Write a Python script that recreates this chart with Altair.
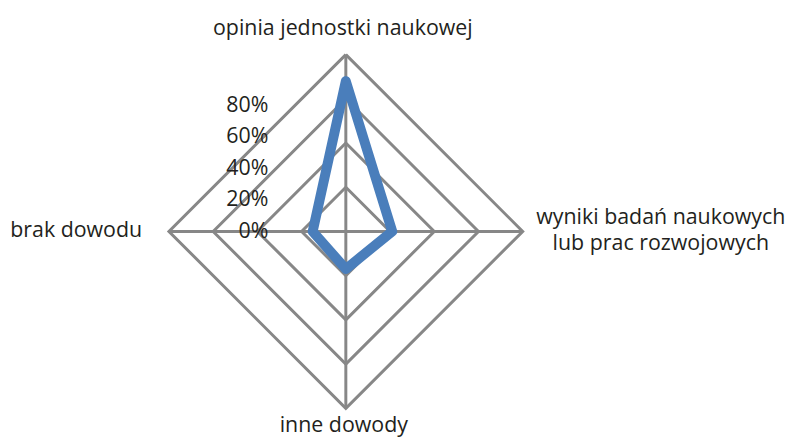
import math
import altair as alt
import pandas as pd

# ---- data ----
categories = ["opinia jednostki naukowej", "wyniki badań naukowych\nlub prac rozwojowych",
              "inne dowody", "brak dowodu"]
values = [68, 21, 17, 15]
ring_levels = [20, 40, 60, 80]
tick_values = [0, 20, 40, 60, 80]
tick_labels = ["0%", "20%", "40%", "60%", "80%"]

angles = [90, 0, -90, 180]  # top, right, bottom, left

W, H = 776, 431
CX, CY = 340, 223.5
K = 178 / 80.0
xdom = [-CX / K, (W - CX) / K]
ydom = [-(H - CY) / K, CY / K]
xs = alt.Scale(domain=xdom, nice=False, zero=False)
ys = alt.Scale(domain=ydom, nice=False, zero=False)

FONT = "Open Sans"
FS = 21.5
TXT = "#231F20"
GRID = "#878787"

# rings
ring_rows = []
for lv in ring_levels:
    for i, a in enumerate(angles + [angles[0]]):
        r = math.radians(a)
        ring_rows.append({"ring": lv, "i": i, "x": lv * math.cos(r), "y": lv * math.sin(r)})
rings = alt.Chart(pd.DataFrame(ring_rows)).mark_line(color=GRID, strokeWidth=3).encode(
    x=alt.X("x:Q", scale=xs, axis=None),
    y=alt.Y("y:Q", scale=ys, axis=None),
    detail="ring:N",
    order="i:Q",
)

# spokes
spoke_rows = []
for a in angles:
    r = math.radians(a)
    spoke_rows.append({"x": 0, "y": 0, "x2": 80 * math.cos(r), "y2": 80 * math.sin(r)})
spokes = alt.Chart(pd.DataFrame(spoke_rows)).mark_rule(color=GRID, strokeWidth=3).encode(
    x=alt.X("x:Q", scale=xs, axis=None), y=alt.Y("y:Q", scale=ys, axis=None),
    x2="x2:Q", y2="y2:Q",
)

# series
ser_rows = []
for i, (a, v) in enumerate(list(zip(angles, values)) + [(angles[0], values[0])]):
    r = math.radians(a)
    ser_rows.append({"i": i, "x": v * math.cos(r), "y": v * math.sin(r)})
series = alt.Chart(pd.DataFrame(ser_rows)).mark_line(
    color="#4A7EBB", strokeWidth=10, strokeJoin="round", strokeCap="round"
).encode(
    x=alt.X("x:Q", scale=xs, axis=None), y=alt.Y("y:Q", scale=ys, axis=None), order="i:Q"
)

# category labels
def cat_label(idx, align, dx, dy):
    a = math.radians(angles[idx])
    df = pd.DataFrame([{"t": categories[idx], "x": 80 * math.cos(a), "y": 80 * math.sin(a)}])
    return alt.Chart(df).mark_text(
        font=FONT, fontSize=FS, color=TXT, align=align, baseline="alphabetic",
        dx=dx, dy=dy, lineBreak="\n", lineHeight=27,
    ).encode(x=alt.X("x:Q", scale=xs, axis=None), y=alt.Y("y:Q", scale=ys, axis=None), text="t:N")

lab_top = cat_label(0, "center", -3, -20)
lab_right = cat_label(1, "center", 139, -8)
lab_bottom = cat_label(2, "center", -2, 24)
lab_left = cat_label(3, "right", -27, 6)

# percent labels (own scale: Excel compresses their spacing)
KL = 127 / 80.0
ylab = alt.Scale(domain=[-(H - 230) / KL, 230 / KL], nice=False, zero=False)
pct = alt.Chart(pd.DataFrame({"v": tick_values, "t": tick_labels})).mark_text(
    font=FONT, fontSize=FS, color=TXT, align="right", baseline="alphabetic", dx=-78
).encode(
    x=alt.datum(0, scale=xs, axis=None),
    y=alt.Y("v:Q", scale=ylab, axis=None),
    text="t:N",
)

chart = alt.layer(rings, spokes, series, lab_top, lab_right, lab_bottom, lab_left, pct).resolve_scale(
    y="independent"
).properties(width=W, height=H, padding=0).configure_view(stroke=None)

chart.save("out.html", embed_options={"renderer": "svg", "actions": False})
